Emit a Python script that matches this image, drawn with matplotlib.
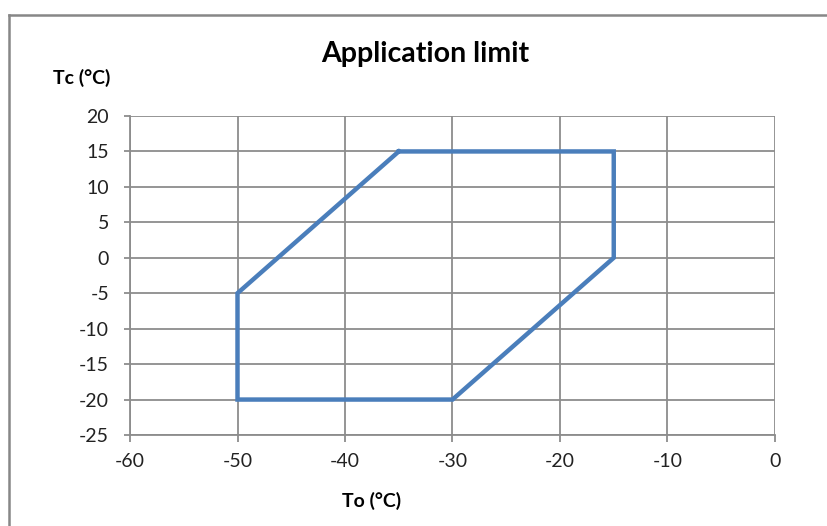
import matplotlib
matplotlib.use("Agg")
import matplotlib.pyplot as plt
from matplotlib.lines import Line2D

plt.rcParams['font.family'] = ['Lato', 'DejaVu Sans']

# Data
to_vals = [-35, -15, -15, -30, -50, -50, -35]
tc_vals = [15, 15, 0, -20, -20, -5, 15]
x_ticks = [-60, -50, -40, -30, -20, -10, 0]
y_ticks = [20, 15, 10, 5, 0, -5, -10, -15, -20, -25]
title = "Application limit"
xlabel = "To (°C)"
ylabel = "Tc (°C)"

W, H = 828, 526
fig = plt.figure(figsize=(W / 100, H / 100), dpi=100)
ax = fig.add_axes([130 / W, 1 - 435 / H, (775 - 130) / W, (435 - 116) / H])

grid_c = '#8c8c8c'
ax.plot(to_vals, tc_vals, color='#4a7ebb', lw=3.2, solid_joinstyle='miter', zorder=3)

ax.set_xlim(-60, 0)
ax.set_ylim(-25, 20)
ax.set_xticks(x_ticks)
ax.set_yticks(y_ticks)
ax.set_xticklabels([str(v) for v in x_ticks])
ax.set_yticklabels([str(v) for v in y_ticks])
ax.grid(True, color=grid_c, lw=1.3)
ax.set_axisbelow(True)
for s in ['top', 'right']:
    ax.spines[s].set_visible(False)
for s in ['left', 'bottom']:
    ax.spines[s].set_color(grid_c)
    ax.spines[s].set_linewidth(1.3)
ax.tick_params(axis='x', length=5, width=1.3, color=grid_c, labelsize=14, pad=8, labelcolor='#222222')
ax.tick_params(axis='y', length=4, width=1.3, color=grid_c, labelsize=14, pad=11, labelcolor='#222222')

fig.text(425 / W, 1 - 62 / H, title, ha='center', va='baseline', fontsize=20.5, fontweight='bold')
fig.text(82 / W, 1 - 84 / H, ylabel, ha='center', va='baseline', fontsize=14, fontweight='bold')
fig.text(372 / W, 1 - 507 / H, xlabel, ha='center', va='baseline', fontsize=14, fontweight='bold')

# chart border (cropped)
bx, by = 9 / W, 1 - 15 / H
fig.add_artist(Line2D([bx, bx], [0, by], color='#878787', lw=1.8, transform=fig.transFigure))
fig.add_artist(Line2D([bx, 1], [by, by], color='#878787', lw=1.8, transform=fig.transFigure))

fig.savefig('out.png', dpi=100)
